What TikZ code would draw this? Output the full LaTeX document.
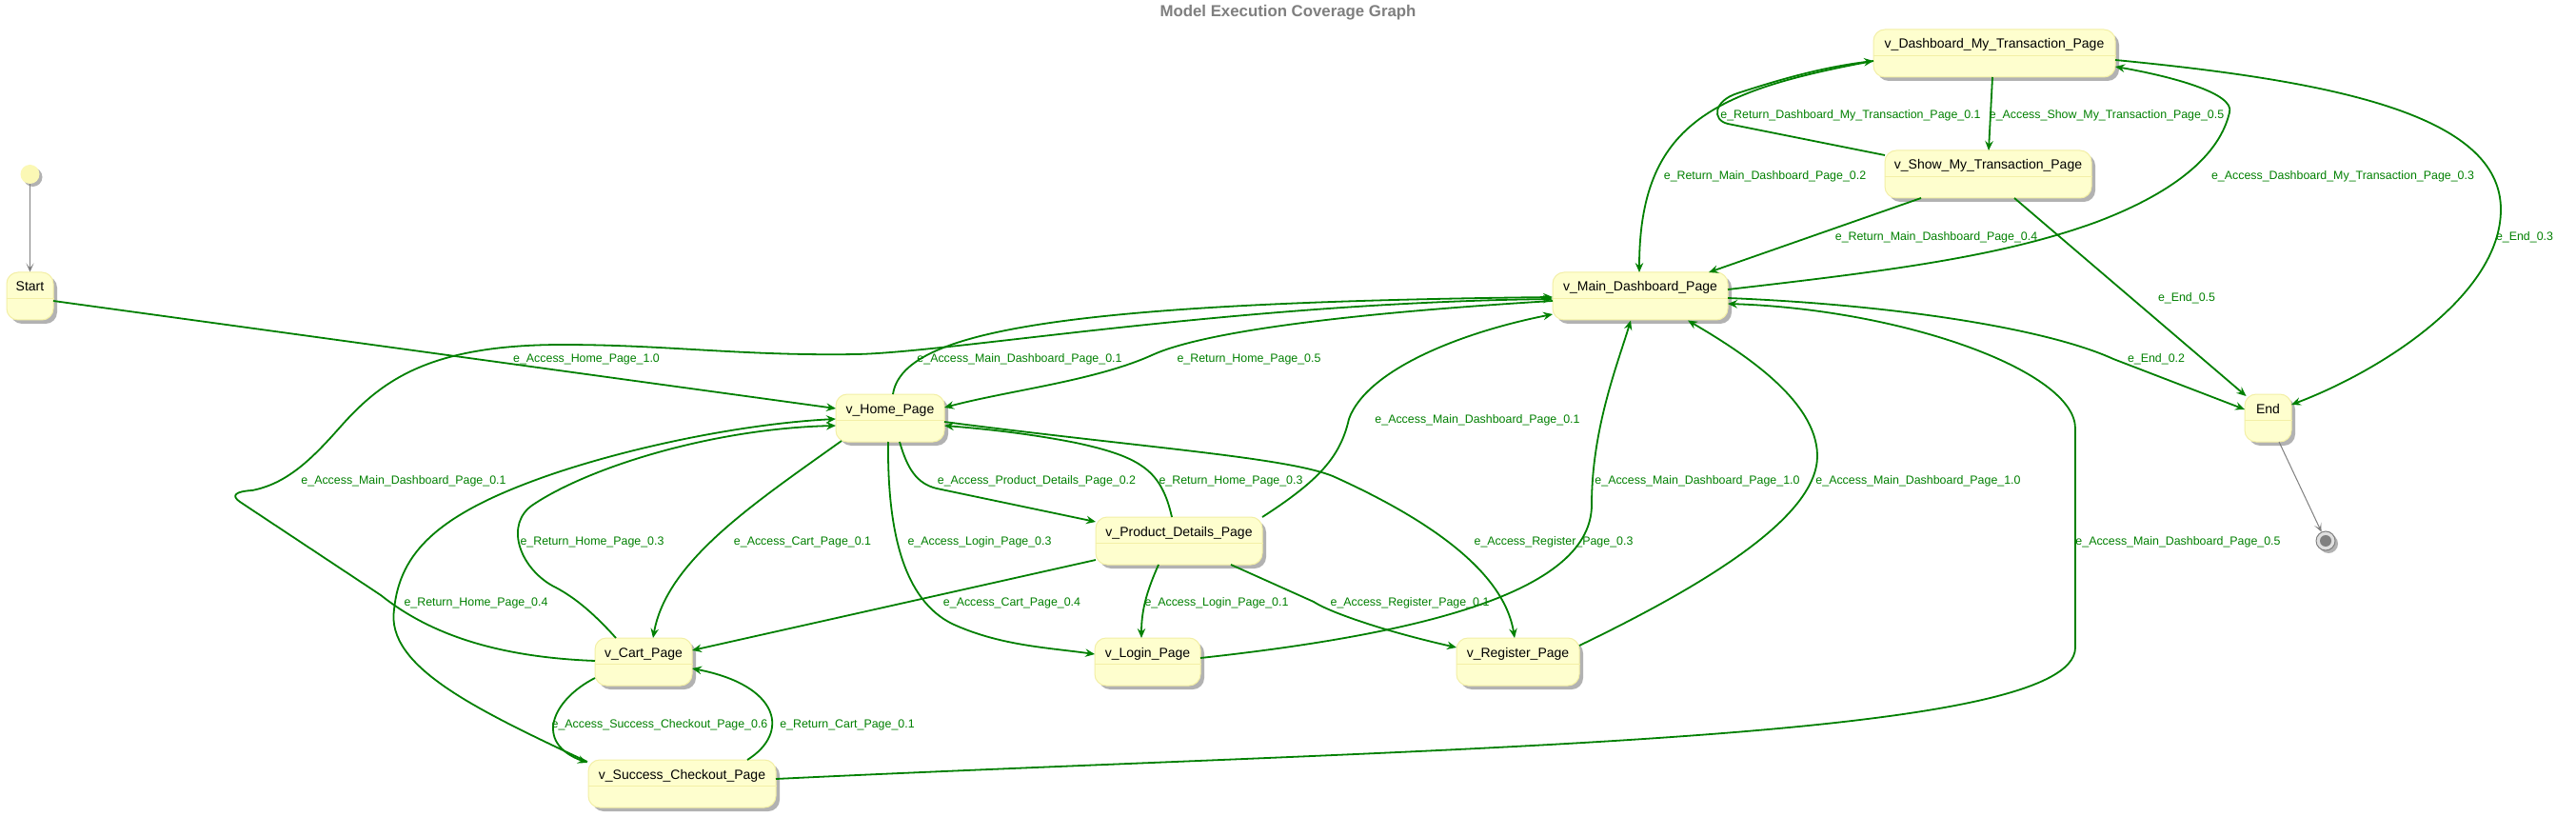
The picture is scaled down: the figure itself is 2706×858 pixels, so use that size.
\documentclass[tikz,border=0pt]{standalone}
\usepackage{fontspec}
\setmainfont{Liberation Sans}
\usetikzlibrary{arrows.meta,calc,shadows}
\definecolor{nodefill}{HTML}{FEFECE}
\definecolor{nodeborder}{HTML}{F3EFA6}
\definecolor{edgegreen}{HTML}{008000}
\definecolor{initfill}{HTML}{FBF8B5}
\definecolor{titlegray}{HTML}{7F7F7F}
\begin{document}
\begin{tikzpicture}[x=1pt,y=-1pt,
  statebox/.style={draw=nodeborder, fill=nodefill, line width=1pt, rounded corners=12pt, inner sep=0pt,
    text height=20pt, text depth=30pt, font=\fontsize{14}{16}\selectfont,
    drop shadow={shadow xshift=4pt, shadow yshift=-4pt, opacity=0.3, fill=black}},
  sepline/.style={draw=nodeborder, line width=0.8pt},
  conn/.style={draw=edgegreen, line width=1.8pt, -{Stealth[length=10pt,width=8.5pt,inset=3.5pt]}},
  lbl/.style={text=edgegreen, font=\fontsize{12.4}{14}\selectfont, inner sep=0pt, anchor=base, yshift=-4.5pt},
  grayedge/.style={draw=titlegray, line width=1pt, -{Stealth[length=9pt,width=8pt,inset=5pt]}},
  initdot/.style={circle, fill=initfill, draw=none, minimum size=20pt, inner sep=0pt,
    drop shadow={shadow xshift=3pt, shadow yshift=-3pt, opacity=0.3, fill=black}},
  finring/.style={circle, fill=gray!25, draw=gray, line width=1pt, minimum size=20pt, inner sep=0pt,
    drop shadow={shadow xshift=3pt, shadow yshift=-3pt, opacity=0.3, fill=black}},
  findot/.style={circle, fill=gray, draw=none, minimum size=12pt, inner sep=0pt},
  titletext/.style={text=titlegray, font=\bfseries\fontsize{16.8}{20}\selectfont, inner sep=0pt}
]
\fill[white] (0,0) rectangle (2706,858);
\useasboundingbox (0,0) rectangle (2706,858);

\node[titletext] (title) at (1353,13) {Model Execution Coverage Graph};

% states
\node[initdot] (init) at (31.5,183) {};
\node[statebox, minimum width=49pt] (start) at (31.5,311) {Start};
\node[statebox, minimum width=114pt] (home) at (935,439) {v\_Home\_Page};
\node[statebox, minimum width=184pt] (main) at (1723,311) {v\_Main\_Dashboard\_Page};
\node[statebox, minimum width=254pt] (dmt) at (2095,56) {v\_Dashboard\_My\_Transaction\_Page};
\node[statebox, minimum width=217pt] (show) at (2088.5,183) {v\_Show\_My\_Transaction\_Page};
\node[statebox, minimum width=49pt] (endn) at (2382.5,439) {End};
\node[statebox, minimum width=102pt] (cart) at (676,695) {v\_Cart\_Page};
\node[statebox, minimum width=197pt] (success) at (716.5,823) {v\_Success\_Checkout\_Page};
\node[statebox, minimum width=175pt] (product) at (1238.5,568) {v\_Product\_Details\_Page};
\node[statebox, minimum width=111pt] (login) at (1205.5,695) {v\_Login\_Page};
\node[statebox, minimum width=129pt] (register) at (1594.5,695) {v\_Register\_Page};
\node[finring] (fin) at (2443,568) {};
\node[findot] (findot) at (fin) {};

\foreach \n in {start,home,main,dmt,show,endn,cart,success,product,login,register}{
  \draw[sepline] ([yshift=-28pt]\n.north west) -- ([yshift=-28pt]\n.north east);
}

% gray connectors
\draw[grayedge] (init) -- (start);
\draw[grayedge] ($(endn)+(11.5,25)$) -- (fin);

% green connectors
\draw[conn] ($(start)+(24.5,5)$) -- ($(home)+(-57,-10)$);
\draw[conn] ($(home)+(3,-25)$) .. controls (948,350) and (1100,318) .. ($(main)+(-92,1)$);
\draw[conn] ($(main)+(-92,5)$) .. controls (1400,330) and (1260,350) .. (1210,373) .. controls (1150,400) and (1060,410) .. ($(home)+(57,-11)$);
\draw[conn] ($(cart)+(-51,-1)$) .. controls (520,690) and (450,665) .. (400,625) -- (252,527) .. controls (242,520) and (248,516) .. (265,515) .. controls (300,508) and (325,485) .. (356,450) .. controls (400,400) and (450,362) .. (591,362) .. controls (700,362) and (780,374) .. (900,372) .. controls (1000,370) and (1300,318) .. ($(main)+(-92,3)$);
\draw[conn] ($(main)+(92,-7)$) .. controls (1980,285) and (2100,270) .. (2200,234) .. controls (2270,208) and (2330,170) .. (2342,118) .. controls (2348,98) and (2280,80) .. ($(dmt)+(127,14)$);
\draw[conn] ($(dmt)+(127,7)$) .. controls (2450,85) and (2627,120) .. (2627,220) .. controls (2627,310) and (2500,390) .. ($(endn)+(24.5,-14)$);
\draw[conn] ($(dmt)+(-127,8)$) .. controls (1800,95) and (1722,130) .. ($(main)+(-1,-25)$);
\draw[conn] ($(dmt)+(-2,25)$) -- ($(show)+(0.5,-25)$);
\draw[conn] ($(show)+(-108.5,-20)$) -- (1815,130) .. controls (1798,126) and (1800,106) .. (1825,98) .. controls (1880,80) and (1920,70) .. ($(dmt)+(-127,8)$);
\draw[conn] ($(show)+(-70.5,25)$) -- ($(main)+(72,-25)$);
\draw[conn] ($(show)+(27.5,25)$) -- ($(endn)+(-23,-23)$);
\draw[conn] ($(main)+(92,2)$) .. controls (1990,320) and (2150,345) .. (2220,377) -- ($(endn)+(-24.5,-9)$);
\draw[conn] ($(success)+(98.5,-5)$) .. controls (1500,785) and (2180,780) .. (2180,680) -- (2180,450) .. controls (2180,390) and (2000,325) .. ($(main)+(92,8)$);
\draw[conn] ($(register)+(64.5,-17)$) .. controls (1800,610) and (1910,540) .. (1909,478) .. controls (1908,420) and (1830,370) .. ($(main)+(50,25.5)$);
\draw[conn] ($(login)+(55.5,-4)$) .. controls (1500,665) and (1672,620) .. (1672,530) .. controls (1672,450) and (1700,380) .. ($(main)+(-10,25.5)$);
\draw[conn] ($(product)+(87.5,-25)$) .. controls (1385,505) and (1408,480) .. (1417,440) .. controls (1435,390) and (1530,350) .. ($(main)+(-92,19)$);
\draw[conn] ($(home)+(10,25)$) .. controls (953,492) and (963,508) .. (984,513) -- ($(product)+(-87.5,-20)$);
\draw[conn] ($(product)+(-7.5,-25)$) .. controls (1220,495) and (1200,480) .. (1130,465) .. controls (1080,455) and (1030,450) .. ($(home)+(57,8)$);
\draw[conn] ($(home)+(57,4)$) .. controls (1200,470) and (1350,480) .. (1400,500) .. controls (1500,545) and (1580,600) .. ($(register)+(-3.5,-25)$);
\draw[conn] ($(home)+(-2,25)$) .. controls (932,560) and (950,630) .. (1000,655) .. controls (1050,678) and (1100,680) .. ($(login)+(-55.5,-8)$);
\draw[conn] ($(product)+(-87.5,20)$) -- ($(cart)+(51,-12)$);
\draw[conn] ($(product)+(-21.5,25)$) .. controls (1205,620) and (1199,640) .. ($(login)+(-6.5,-25)$);
\draw[conn] ($(product)+(54.5,25)$) -- (1380,632) .. controls (1395,642) and (1450,662) .. ($(register)+(-64.5,-15)$);
\draw[conn] ($(home)+(-51,24)$) .. controls (790,530) and (700,590) .. ($(cart)+(10,-25)$);
\draw[conn] ($(cart)+(-29,-25)$) .. controls (620,640) and (600,625) .. (580,615) .. controls (545,595) and (530,550) .. (560,530) .. controls (620,490) and (750,450) .. ($(home)+(-57,8)$);
\draw[conn] ($(success)+(-99.5,-23)$) .. controls (500,745) and (405,700) .. (414,640) .. controls (420,580) and (460,540) .. (574,500) .. controls (660,470) and (780,445) .. ($(home)+(-57,1)$);
\draw[conn] ($(cart)+(-51,17)$) .. controls (580,735) and (560,780) .. ($(success)+(-99.5,-22)$);
\draw[conn] ($(success)+(68.5,-25)$) .. controls (830,770) and (820,720) .. ($(cart)+(51,7)$);

% labels
\node[lbl] (l2) at (616,376) {e\_Access\_Home\_Page\_1.0};
\node[lbl] (l3) at (1071,376) {e\_Access\_Main\_Dashboard\_Page\_0.1};
\node[lbl] (l4) at (1312,376) {e\_Return\_Home\_Page\_0.5};
\node[lbl] (l5) at (424,504) {e\_Access\_Main\_Dashboard\_Page\_0.1};
\node[lbl] (l6) at (2461,184) {e\_Access\_Dashboard\_My\_Transaction\_Page\_0.3};
\node[lbl] (l7) at (2652,248) {e\_End\_0.3};
\node[lbl] (l8) at (1854,184) {e\_Return\_Main\_Dashboard\_Page\_0.2};
\node[lbl] (l9) at (2213,120) {e\_Access\_Show\_My\_Transaction\_Page\_0.5};
\node[lbl] (l10) at (1944,120) {e\_Return\_Dashboard\_My\_Transaction\_Page\_0.1};
\node[lbl] (l11) at (2034,248) {e\_Return\_Main\_Dashboard\_Page\_0.4};
\node[lbl] (l12) at (2297,312) {e\_End\_0.5};
\node[lbl] (l13) at (2265,376) {e\_End\_0.2};
\node[lbl] (l14) at (2288,568) {e\_Access\_Main\_Dashboard\_Page\_0.5};
\node[lbl] (l15) at (2015,504) {e\_Access\_Main\_Dashboard\_Page\_1.0};
\node[lbl] (l16) at (1783,504) {e\_Access\_Main\_Dashboard\_Page\_1.0};
\node[lbl] (l17) at (1552,440) {e\_Access\_Main\_Dashboard\_Page\_0.1};
\node[lbl] (l18) at (1089,504) {e\_Access\_Product\_Details\_Page\_0.2};
\node[lbl] (l19) at (1293,504) {e\_Return\_Home\_Page\_0.3};
\node[lbl] (l20) at (1632,568) {e\_Access\_Register\_Page\_0.3};
\node[lbl] (l21) at (1029,568) {e\_Access\_Login\_Page\_0.3};
\node[lbl] (l22) at (1063,632) {e\_Access\_Cart\_Page\_0.4};
\node[lbl] (l23) at (1278,632) {e\_Access\_Login\_Page\_0.1};
\node[lbl] (l24) at (1481,632) {e\_Access\_Register\_Page\_0.1};
\node[lbl] (l25) at (843,568) {e\_Access\_Cart\_Page\_0.1};
\node[lbl] (l26) at (622,568) {e\_Return\_Home\_Page\_0.3};
\node[lbl] (l27) at (500,632) {e\_Return\_Home\_Page\_0.4};
\node[lbl] (l28) at (693,760) {e\_Access\_Success\_Checkout\_Page\_0.6};
\node[lbl] (l29) at (890,760) {e\_Return\_Cart\_Page\_0.1};
\end{tikzpicture}
\end{document}
